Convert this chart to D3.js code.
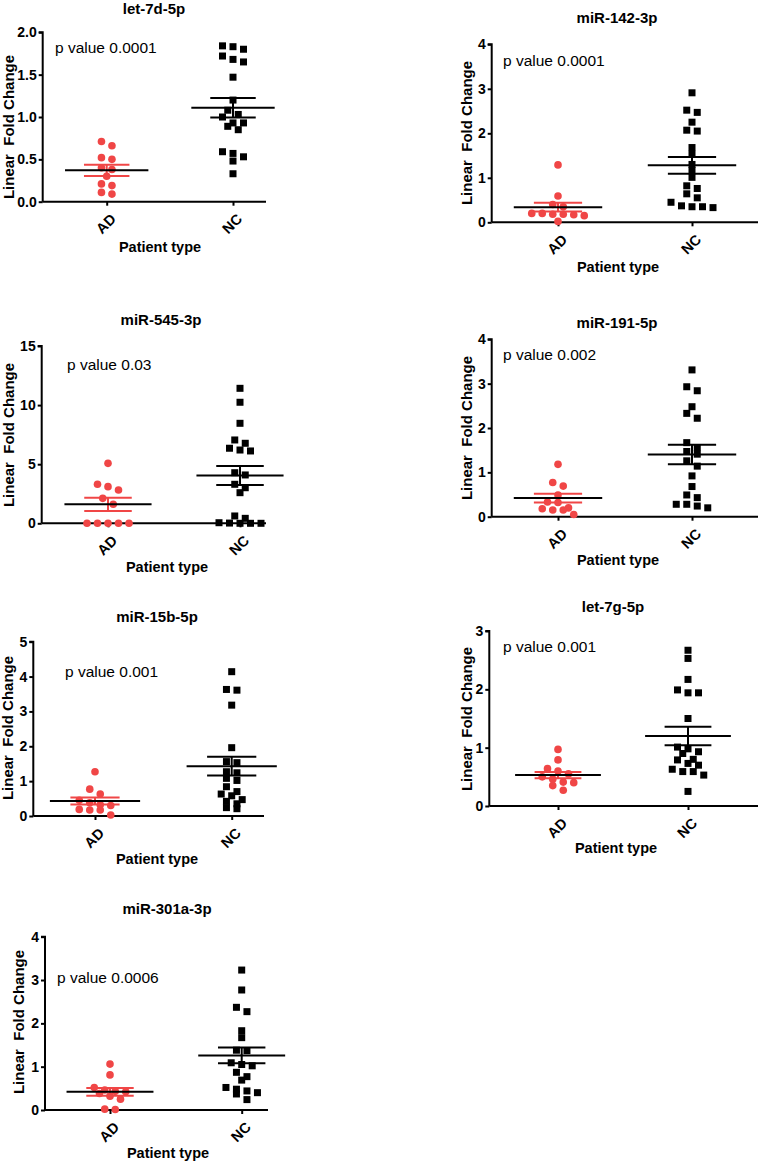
<!DOCTYPE html>
<html><head><meta charset="utf-8">
<script src="https://cdn.jsdelivr.net/npm/d3@7"></script>
<style>body{margin:0;background:#fff}svg{display:block}text{font-family:"Liberation Sans",Arial,sans-serif}</style>
</head><body>
<svg id="c" width="759" height="1161"></svg>
<script>
// ---------- data ----------
const titles = ["let-7d-5p","miR-142-3p","miR-545-3p","miR-191-5p","miR-15b-5p","let-7g-5p","miR-301a-3p"];
const pValues = ["p value 0.0001","p value 0.0001","p value 0.03","p value 0.002","p value 0.001","p value 0.001","p value 0.0006"];
const categories = ["AD","NC"];
const yTicks = [[0,0.5,1,1.5,2],[0,1,2,3,4],[0,5,10,15],[0,1,2,3,4],[0,1,2,3,4,5],[0,1,2,3],[0,1,2,3,4]];
const tickDecimals = [1,0,0,0,0,0,0];
const adValues = [
  [0.71,0.66,0.52,0.50,0.40,0.38,0.30,0.21,0.19,0.09,0.11],
  [1.29,0.59,0.40,0.35,0.20,0.18,0.15,0.18,0.17,0.20,0.02],
  [5.07,3.30,3.10,2.82,2.11,1.61,0,0,0,0,0],
  [1.18,0.77,0.69,0.49,0.33,0.32,0.20,0.15,0.15,0.18,0.05],
  [1.27,0.77,0.63,0.45,0.38,0.32,0.30,0.19,0.17,0.17,0.03],
  [0.97,0.79,0.64,0.60,0.55,0.50,0.46,0.40,0.41,0.35,0.27],
  [1.06,0.81,0.52,0.46,0.43,0.42,0.38,0.32,0.25,0.02,0.01]
];
const ncValues = [
  [1.83,1.80,1.84,1.72,1.65,1.68,1.47,1.20,1.08,1.03,1.00,0.93,0.89,0.93,0.85,0.59,0.53,0.57,0.48,0.33],
  [2.91,2.52,2.47,2.25,2.07,2.05,1.68,1.53,1.30,1.16,1.01,0.82,0.76,0.64,0.55,0.45,0.37,0.35,0.33,0.35],
  [11.42,10.24,8.46,7.05,6.77,6.35,6.20,6.12,4.28,4.09,3.30,3.01,2.59,0.62,0.42,0.05,0.02,0,0,0],
  [3.31,2.93,2.84,2.48,2.33,2.22,1.67,1.56,1.47,1.41,1.26,1.14,0.92,0.68,0.43,0.49,0.28,0.20,0.24,0.28],
  [4.14,3.63,3.61,3.18,1.96,1.56,1.53,1.27,1.24,1.08,1.02,0.84,0.63,0.58,0.70,0.47,0.35,0.42,0.21,0.24],
  [2.67,2.53,2.17,1.94,1.94,1.99,1.50,1.01,0.93,0.90,0.98,0.79,0.70,0.73,0.80,0.63,0.59,0.53,0.59,0.25],
  [3.23,2.77,2.37,2.27,1.83,1.67,1.38,1.37,1.09,1.05,1.02,0.87,0.77,0.69,0.52,0.48,0.44,0.40,0.37,0.24]
];
const adMean = [0.37,0.34,1.61,0.42,0.43,0.53,0.42];
const adSem  = [0.067,0.10,0.56,0.10,0.10,0.055,0.09];
const ncMean = [1.11,1.28,4.05,1.40,1.43,1.20,1.26];
const ncSem  = [0.115,0.19,0.80,0.22,0.27,0.16,0.18];

// ---------- layout ----------
const layout = [
  {ax:42.7, xe:266, top:32.3, bot:201.7, ad:106.7, nc:233, tx:154, ty:13.5, px:55, py:53, lx:9, ly:127, ptx:160, pty:252},
  {ax:491.7,xe:758, top:44.3, bot:222.3, ad:558, nc:692, tx:617, ty:23, px:503, py:66, lx:467, ly:133, ptx:618, pty:272},
  {ax:41.7, xe:266, top:346, bot:523.3, ad:108, nc:240, tx:161, ty:325, px:67, py:370, lx:9, ly:435, ptx:167, pty:572},
  {ax:491.7,xe:758, top:339.3,bot:516.7, ad:558, nc:692, tx:617, ty:328, px:503, py:360, lx:467, ly:428, ptx:618, pty:565},
  {ax:33.3, xe:264, top:641.7,bot:816, ad:95, nc:231.7, tx:157, ty:622, px:65, py:677, lx:8, ly:728, ptx:157, pty:864},
  {ax:489.3,xe:758, top:631, bot:806, ad:558, nc:688, tx:613, ty:612, px:503, py:652, lx:467, ly:719, ptx:616, pty:853},
  {ax:45,   xe:268, top:936.7,bot:1110, ad:110, nc:241.7, tx:167, ty:914, px:57, py:983, lx:19, ly:1022, ptx:168, pty:1158}
];
const RED = "#f04646";
const FONT = '"Liberation Sans",Arial,sans-serif';
const svg = d3.select("#c");

function swarm(vals, y, cx, step, thr) {
  const pts = vals.map(v => ({v, y: y(v)})).sort((a,b) => a.y - b.y);
  const out = [];
  let bin = [];
  const flush = () => {
    const n = bin.length;
    bin.forEach((p,i) => { p.x = cx + (i - (n-1)/2) * step; out.push(p); });
    bin = [];
  };
  pts.forEach(p => {
    if (bin.length && (p.y - bin[0].y > thr || bin.length >= 7)) flush();
    bin.push(p);
  });
  flush();
  return out;
}

layout.forEach((L, i) => {
  const yMax = yTicks[i][yTicks[i].length - 1];
  const y = d3.scaleLinear().domain([0, yMax]).range([L.bot, L.top]);
  const spacing = L.nc - L.ad;
  const x = d3.scalePoint().domain(categories).range([L.ad, L.nc]).padding(0);
  const g = svg.append("g");

  // y axis
  const ya = g.append("g").attr("transform", `translate(${L.ax},0)`)
    .call(d3.axisLeft(y).tickValues(yTicks[i]).tickSize(4).tickPadding(2)
      .tickFormat(d3.format("." + tickDecimals[i] + "f")));
  ya.select(".domain").attr("stroke", "#000").attr("stroke-width", 2).attr("d", `M-4,${L.top}H0V${L.bot}`);
  ya.selectAll(".tick line").attr("stroke", "#000").attr("stroke-width", 2);
  ya.selectAll(".tick text").attr("font-size", 14).attr("font-weight", "bold").attr("fill", "#000")
    .attr("font-family", FONT);

  // x axis
  const xa = g.append("g").attr("transform", `translate(0,${L.bot})`)
    .call(d3.axisBottom(x).tickSize(4).tickSizeOuter(0).tickFormat(""));
  xa.select(".domain").attr("stroke", "#000").attr("stroke-width", 2).attr("d", `M${L.ax},0H${L.xe}`);
  xa.selectAll(".tick line").attr("stroke", "#000").attr("stroke-width", 2);

  categories.forEach(c => {
    g.append("text").attr("transform", `translate(${x(c) + 3},${L.bot + 11}) rotate(-45)`)
      .attr("text-anchor", "end").attr("dy", "0.7em").attr("font-size", 14.5).attr("font-weight", "bold").text(c);
  });

  // texts
  g.append("text").attr("x", L.tx).attr("y", L.ty).attr("text-anchor", "middle")
    .attr("font-size", 15).attr("font-weight", "bold").text(titles[i]);
  g.append("text").attr("x", L.px).attr("y", L.py).attr("font-size", 15.5).text(pValues[i]);
  g.append("text").attr("transform", `translate(${L.lx + 5},${L.ly}) rotate(-90)`).attr("text-anchor", "middle")
    .attr("font-size", 15).attr("font-weight", "bold").style("white-space", "pre").text("Linear  Fold Change");
  g.append("text").attr("x", L.ptx).attr("y", L.pty).attr("text-anchor", "middle")
    .attr("font-size", 14.5).attr("font-weight", "bold").text("Patient type");

  const step = 10.5;
  swarm(adValues[i], y, x("AD"), step, 6).forEach(p => {
    g.append("circle").attr("cx", p.x).attr("cy", p.y).attr("r", 3.8).attr("fill", RED);
  });
  swarm(ncValues[i], y, x("NC"), step, 6).forEach(p => {
    g.append("rect").attr("x", p.x - 3.5).attr("y", p.y - 3.5).attr("width", 7).attr("height", 7).attr("fill", "#000");
  });

  // SEM + mean
  const stats = [["AD", adMean[i], adSem[i], RED], ["NC", ncMean[i], ncSem[i], "#000"]];
  stats.forEach(([c, m, s, col]) => {
    const cx = x(c), hw = 0.18 * spacing, mw = 0.33 * spacing;
    g.append("line").attr("x1", cx).attr("x2", cx).attr("y1", y(m - s)).attr("y2", y(m + s)).attr("stroke", col).attr("stroke-width", 2);
    [m - s, m + s].forEach(v => g.append("line").attr("x1", cx - hw).attr("x2", cx + hw).attr("y1", y(v)).attr("y2", y(v)).attr("stroke", col).attr("stroke-width", 2));
    g.append("line").attr("x1", cx - mw).attr("x2", cx + mw).attr("y1", y(m)).attr("y2", y(m)).attr("stroke", "#000").attr("stroke-width", 2);
  });
});
</script>
</body></html>
